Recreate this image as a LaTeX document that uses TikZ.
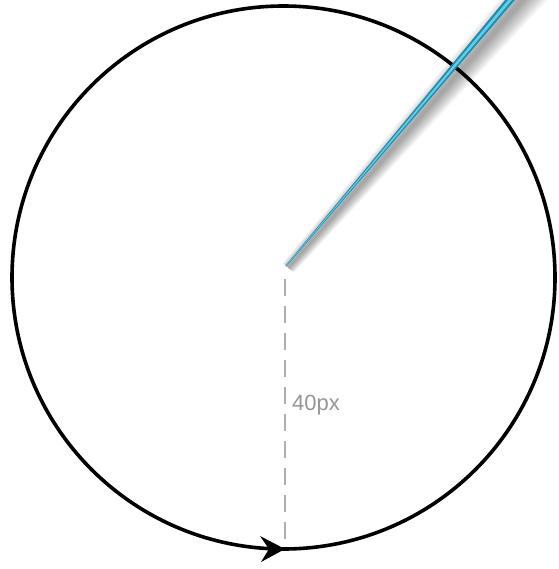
\documentclass[tikz,border=0pt]{standalone}
\usepackage{fontspec}
\setmainfont{Liberation Sans}
\usetikzlibrary{calc}
\definecolor{penedge}{RGB}{30,140,175}
\definecolor{penlight}{RGB}{100,205,230}
\definecolor{dashgray}{RGB}{175,175,175}
\definecolor{labelgray}{RGB}{150,150,150}
\tikzset{
  ring/.style={line width=3.6pt, black},
  radiusline/.style={line width=2pt, dashgray, dash pattern=on 17pt off 10pt},
  lbl/.style={text=labelgray, font=\fontsize{22}{25}\selectfont, inner sep=0pt},
}
\begin{document}
\begin{tikzpicture}[x=1pt,y=-1pt]
\useasboundingbox (0,0) rectangle (558,569);
\fill[white] (0,0) rectangle (558,569);
\clip (0,0) rectangle (558,569);
\coordinate (C) at (283.5,277.5);
\coordinate (S) at (286,266);
\coordinate (E) at (530.7,-24.7);
\coordinate (D0) at (285,279);
\coordinate (D1) at (285,545);
% circle
\draw[ring] (C) circle[radius=271.5];
% arrow head at bottom
\fill[black] (285,549) -- (260,536) -- (269,549) -- (261,562) -- cycle;
% dashed radius
\draw[radiusline] (D0) -- (D1);
\node[lbl, anchor=base west] (L) at (292,410) {40px};
% pen shadow
\foreach \k in {1,...,14}{
  \pgfmathsetmacro\ws{0.4+0.5*\k}
  \pgfmathsetmacro\we{1+1.3*\k}
  \fill[black,opacity=0.028]
    ($(S)+({(3+\ws)*0.765},{(3+\ws)*0.644})$) --
    ($(E)+({(10+\we)*0.765},{(10+\we)*0.644})$) --
    ($(E)+({(10-\we)*0.765},{(10-\we)*0.644})$) --
    ($(S)+({(3-\ws)*0.765},{(3-\ws)*0.644})$) -- cycle;
}
% pen
\fill[penedge] ($(S)+(0.46,0.39)$) -- ($(E)+(3.06,2.58)$) -- ($(E)+(-3.06,-2.58)$) -- ($(S)+(-0.46,-0.39)$) -- cycle;
\fill[penlight] ($(S)+(0.15,0.13)$) -- ($(E)+(1.3,1.1)$) -- ($(E)+(-1.1,-0.95)$) -- ($(S)+(-0.1,-0.08)$) -- cycle;
\end{tikzpicture}
\end{document}
